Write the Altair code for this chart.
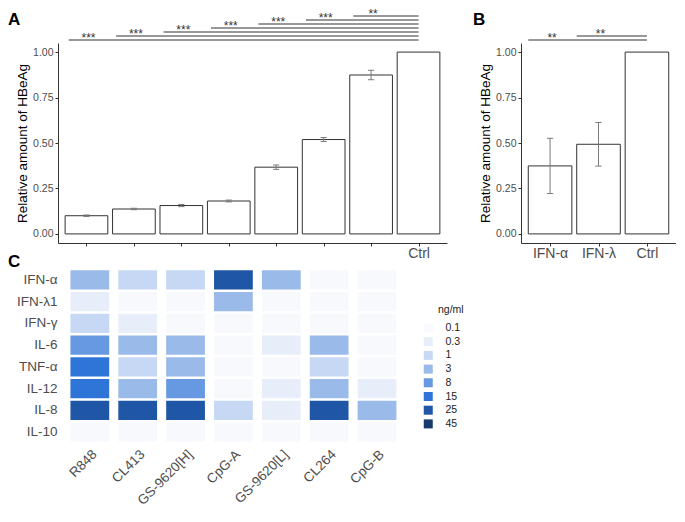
import altair as alt
import pandas as pd

FONT = "Liberation Sans"
AXIS_GREY = "#4d4d4d"
LINE = "#333333"
ERR = "#7a7a7a"

# ---------------- Panel A data ----------------
a_values = [0.100, 0.137, 0.156, 0.181, 0.367, 0.519, 0.874, 1.000]
a_errors = [0.004, 0.004, 0.006, 0.005, 0.012, 0.011, 0.026, 0.0]
a_ticklabels = ["", "", "", "", "", "", "", "Ctrl"]
a_sig_from = [1, 2, 3, 4, 5, 6, 7]
a_sig_level = [1.0665, 1.0885, 1.1105, 1.1325, 1.1545, 1.1765, 1.1985]
a_sig_text = ["***", "***", "***", "***", "***", "***", "**"]

# ---------------- Panel B data ----------------
b_ticklabels = ["IFN-α", "IFN-λ", "Ctrl"]
b_values = [0.374, 0.493, 1.000]
b_errors = [0.152, 0.120, 0.0]
b_sig_from = [1, 2]
b_sig_level = [1.0665, 1.0885]
b_sig_text = ["**", "**"]

# ---------------- Panel C data ----------------
stimuli = ["R848", "CL413", "GS-9620[H]", "CpG-A", "GS-9620[L]", "CL264", "CpG-B"]
cytokines = ["IFN-α", "IFN-λ1", "IFN-γ", "IL-6", "TNF-α", "IL-12", "IL-8", "IL-10"]
ifn_alpha = [3, 1, 1, 25, 3, 0.1, 0.1]
ifn_lambda1 = [0.3, 0.1, 0.1, 3, 0.1, 0.1, 0.1]
ifn_gamma = [1, 0.3, 0.1, 0.1, 0.1, 0.1, 0.1]
il6 = [8, 3, 3, 0.1, 0.3, 3, 0.1]
tnf_alpha = [15, 1, 3, 0.1, 0.1, 1, 0.1]
il12 = [15, 3, 8, 0.1, 0.3, 3, 0.3]
il8 = [25, 25, 25, 1, 0.3, 25, 3]
il10 = [0.1, 0.1, 0.1, 0.1, 0.1, 0.1, 0.1]
legend_levels = ["0.1", "0.3", "1", "3", "8", "15", "25", "45"]
legend_colors = ["#f7f9fd", "#e7eef9", "#c6d8f3", "#9abaea", "#6699e1",
                 "#2e75d7", "#1f57a6", "#163a6e"]


def label_expr(labels):
    expr = "''"
    for i in range(len(labels), 0, -1):
        expr = f"datum.value == {i} ? '{labels[i - 1]}' : ({expr})"
    return expr


def bar_panel(values, errors, ticklabels, sig_from, sig_level, sig_text,
              width, letter, letter_x, line_start_off, x_label_size):
    n = len(values)
    df = pd.DataFrame({"pos": list(range(1, n + 1)), "value": values, "err": errors})
    xs = alt.Scale(domain=[0.4, n + 0.6], nice=False, zero=False)
    ys = alt.Scale(domain=[-0.05, 1.05], nice=False, zero=False)
    xaxis = alt.Axis(values=list(range(1, n + 1)), labelExpr=label_expr(ticklabels),
                     title=None, grid=False, domainColor=LINE, domainWidth=1,
                     tickColor=LINE, tickSize=3, labelFontSize=x_label_size,
                     labelColor=AXIS_GREY, labelPadding=0, labelFont=FONT,
                     labelFlush=False, labelOverlap=False)
    yaxis = alt.Axis(values=[0, 0.25, 0.5, 0.75, 1.0], format=".2f",
                     title="Relative amount of HBeAg", grid=False,
                     domainColor=LINE, domainWidth=1, tickColor=LINE, tickSize=3,
                     labelFontSize=10.5, labelColor=AXIS_GREY, labelPadding=2,
                     labelFont=FONT, titleFont=FONT, titleFontSize=13.5,
                     titleColor="black", titleFontWeight="normal", titlePadding=3,
                     labelFlush=False)
    base = alt.Chart(df).transform_calculate(
        left="datum.pos - 0.45", right="datum.pos + 0.45",
        lo="datum.value - datum.err", hi="datum.value + datum.err",
        cl="datum.pos - 0.065", cr="datum.pos + 0.065", zero="0")
    bars = base.mark_rect(fill="white", stroke=LINE, strokeWidth=1).encode(
        x=alt.X("left:Q", scale=xs, axis=xaxis), x2=alt.X2("right"),
        y=alt.Y("value:Q", scale=ys, axis=yaxis), y2=alt.Y2("zero"))
    errb = base.transform_filter("datum.err > 0")
    err_v = errb.mark_rule(color=ERR, strokeWidth=1).encode(
        x=alt.X("pos:Q", scale=xs, axis=xaxis),
        y=alt.Y("lo:Q", scale=ys, axis=yaxis), y2=alt.Y2("hi"))
    cap_hi = errb.mark_rule(color=ERR, strokeWidth=1).encode(
        x=alt.X("cl:Q", scale=xs, axis=xaxis), x2=alt.X2("cr"),
        y=alt.Y("hi:Q", scale=ys, axis=yaxis))
    cap_lo = errb.mark_rule(color=ERR, strokeWidth=1).encode(
        x=alt.X("cl:Q", scale=xs, axis=xaxis), x2=alt.X2("cr"),
        y=alt.Y("lo:Q", scale=ys, axis=yaxis))

    sdf = pd.DataFrame({"src": sig_from, "level": sig_level, "txt": sig_text})
    sbase = alt.Chart(sdf).transform_calculate(
        start=f"datum.src - {line_start_off}", end=str(n))
    sig_lines = sbase.mark_rule(color=LINE, strokeWidth=1.2).encode(
        x=alt.X("start:Q", scale=xs, axis=xaxis), x2=alt.X2("end"),
        y=alt.Y("level:Q", scale=ys, axis=yaxis))
    sig_txt = sbase.mark_text(fontSize=12, dy=2, dx=2, baseline="alphabetic",
                              color=LINE, font=FONT).encode(
        x=alt.X("src:Q", scale=xs, axis=xaxis),
        y=alt.Y("level:Q", scale=ys, axis=yaxis), text="txt:N")

    let = alt.Chart(pd.DataFrame({"t": [letter]})).mark_text(
        fontSize=17, fontWeight="bold", align="left", baseline="alphabetic",
        font=FONT, color="black").encode(
        text="t:N", x=alt.value(letter_x), y=alt.value(-18))
    return alt.layer(bars, err_v, cap_hi, cap_lo, sig_lines, sig_txt, let).properties(
        width=width, height=200)


chart_a = bar_panel(a_values, a_errors, a_ticklabels, a_sig_from, a_sig_level,
                    a_sig_text, 389, "A", -50, 0.375, 14)
chart_b = bar_panel(b_values, b_errors, b_ticklabels, b_sig_from, b_sig_level,
                    b_sig_text, 155, "B", -48, 0.45, 14)

# ---------------- Panel C ----------------
rows = [ifn_alpha, ifn_lambda1, ifn_gamma, il6, tnf_alpha, il12, il8, il10]
records = []
for cyt, row in zip(cytokines, rows):
    for stim, v in zip(stimuli, row):
        records.append({"stim": stim, "cyt": cyt, "level": f"{v:g}"})
df_h = pd.DataFrame(records)

heat = alt.Chart(df_h).mark_rect().encode(
    x=alt.X("stim:N", sort=stimuli,
            scale=alt.Scale(paddingInner=0.19, paddingOuter=0.178, align=0.73),
            axis=alt.Axis(title=None, labelAngle=-45, labelAlign="right",
                          labelBaseline="top", labelFontSize=13.5, labelFont=FONT,
                          labelColor=AXIS_GREY, domain=False, ticks=False,
                          tickSize=0, labelPadding=4)),
    y=alt.Y("cyt:N", sort=cytokines,
            scale=alt.Scale(paddingInner=0.12, paddingOuter=0.06),
            axis=alt.Axis(title=None, domain=False, ticks=False, tickSize=0,
                          labelPadding=1, labelFontSize=13.5, labelFont=FONT,
                          labelColor=AXIS_GREY)),
    color=alt.Color("level:O",
                    scale=alt.Scale(domain=legend_levels, range=legend_colors),
                    legend=alt.Legend(title=None, orient="none", legendX=365,
                                      legendY=53.75, symbolType="square",
                                      symbolSize=81, symbolStrokeWidth=0,
                                      symbolOpacity=1,
                                      labelFontSize=10.5, labelFont=FONT,
                                      labelColor="#222222", labelOffset=12,
                                      rowPadding=2.7, padding=0)),
)
letter_c = alt.Chart(pd.DataFrame({"t": ["C"]})).mark_text(
    fontSize=17, fontWeight="bold", align="left", baseline="alphabetic",
    font=FONT, color="black").encode(text="t:N", x=alt.value(-50), y=alt.value(-2))
unit_txt = alt.Chart(pd.DataFrame({"t": ["ng/ml"]})).mark_text(
    fontSize=10.5, align="left", baseline="middle", font=FONT,
    color="#222222").encode(text="t:N", x=alt.value(380), y=alt.value(41))
chart_c = alt.layer(heat, letter_c, unit_txt).properties(width=343, height=174)

chart = alt.concat(chart_a, chart_b, chart_c, columns=2,
                   spacing={"row": 26, "column": 74}, bounds="flush").resolve_scale(
    color="independent", x="independent", y="independent").properties(
    padding=0).configure_view(stroke=None).configure_text(font=FONT)

chart.save("out.html", embed_options={"renderer": "svg", "actions": False})
